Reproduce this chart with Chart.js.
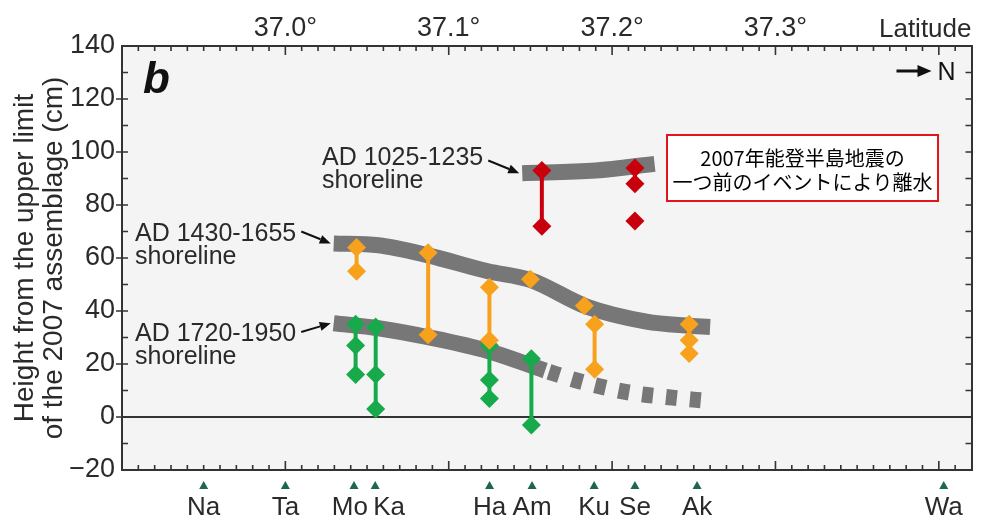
<!DOCTYPE html>
<html><head><meta charset="utf-8">
<script src="https://cdn.jsdelivr.net/npm/chart.js@4.4.0/dist/chart.umd.min.js"></script>
<style>html,body{margin:0;padding:0;background:#fff;}</style>
</head><body>
<canvas id="c" width="981" height="524"></canvas>
<script>
// ---- data (latitude in degrees N, height in cm) ----
const latTicks = [37.0, 37.1, 37.2, 37.3];
const stationNames = ['Na', 'Ta', 'Mo', 'Ka', 'Ha', 'Am', 'Ku', 'Se', 'Ak', 'Wa'];
const stationLats  = [36.950, 37.000, 37.042, 37.055, 37.125, 37.151, 37.189, 37.214, 37.252, 37.403];

const redLat    = [37.157, 37.157, 37.214, 37.214, 37.214];
const redHeight = [93, 72, 94, 88, 74];
const redGroup  = [1, 1, 2, 2, 3];

const orangeLat    = [37.0436, 37.0436, 37.0874, 37.0874, 37.1249, 37.1249, 37.150, 37.183, 37.1893, 37.1893, 37.2472, 37.2472, 37.2472];
const orangeHeight = [64, 55, 62, 31, 49, 29, 52, 42, 35, 18, 35, 29, 24];
const orangeGroup  = [1, 1, 2, 2, 3, 3, 4, 5, 6, 6, 7, 7, 7];

const greenLat    = [37.043, 37.043, 37.043, 37.0553, 37.0553, 37.0553, 37.1249, 37.1249, 37.1249, 37.1506, 37.1506];
const greenHeight = [35, 27, 16, 34, 16, 3, 27, 14, 7, 22, -3];
const greenGroup  = [1, 1, 1, 2, 2, 2, 3, 3, 3, 4, 4];

const shore1025Lat    = [37.145, 37.190, 37.226];
const shore1025Height = [92, 93, 95.5];
const shore1430Lat    = [37.0296, 37.057, 37.0874, 37.124, 37.150, 37.1846, 37.221, 37.245, 37.260];
const shore1430Height = [65.5, 64.8, 61, 55, 51.7, 41.6, 36, 34.5, 34];
const shore1720Lat    = [37.0296, 37.057, 37.0874, 37.124, 37.159];
const shore1720Height = [35.4, 33.5, 30.1, 24.9, 17.5];
const shore1720ProjLat    = [37.159, 37.180, 37.209, 37.237, 37.256];
const shore1720ProjHeight = [17.5, 13.5, 9.4, 7.3, 6.2];

// ---- helpers ----
function grouped(lat, h, g) {
  const out = [];
  for (let i = 0; i < lat.length; i++) {
    if (i > 0 && g[i] !== g[i - 1]) out.push({x: lat[i], y: null});
    out.push({x: lat[i], y: h[i]});
  }
  return out;
}
function pts(lat, h) { return lat.map((v, i) => ({x: v, y: h[i]})); }

const FONT = "'Liberation Sans', Arial, Helvetica, sans-serif";
const INK = '#2a2a2a';
const XMIN = 36.9, XMAX = 37.42;

function measureDS(label, data, color) {
  return {label, data, showLine: true, spanGaps: false, borderColor: color, borderWidth: 4,
    pointStyle: 'rectRot', pointRadius: 9.5, pointBackgroundColor: color, pointBorderWidth: 0,
    pointHoverRadius: 9.5};
}
function shoreDS(label, data, dash, dashOffset) {
  return {label, data, showLine: true, borderColor: '#777777', borderWidth: 16, pointRadius: 0,
    pointHoverRadius: 0, borderCapStyle: 'butt', cubicInterpolationMode: 'monotone',
    borderDash: dash || [], borderDashOffset: dashOffset || 0};
}

const deco = {
  id: 'deco',
  beforeDraw(chart) {
    const {ctx, chartArea: a} = chart;
    ctx.save();
    ctx.fillStyle = '#f4f4f4';
    ctx.fillRect(a.left, a.top, a.right - a.left, a.bottom - a.top);
    ctx.restore();
  },
  afterDraw(chart) {
    const {ctx, chartArea: a, scales} = chart;
    const xs = scales.x, ys = scales.y;
    ctx.save();
    ctx.strokeStyle = '#333'; ctx.lineWidth = 1.6;
    // latitude ticks (every 0.01, major every 0.1), pointing inward
    for (let i = Math.round(XMIN * 100) + 1; i < Math.round(XMAX * 100); i++) {
      const px = xs.getPixelForValue(i / 100);
      const len = (i % 10 === 0) ? 9 : 5;
      ctx.beginPath();
      ctx.moveTo(px, a.top); ctx.lineTo(px, a.top + len);
      ctx.moveTo(px, a.bottom); ctx.lineTo(px, a.bottom - len);
      ctx.stroke();
    }
    // height ticks every 10
    for (let v = -10; v < 140; v += 10) {
      const py = ys.getPixelForValue(v);
      ctx.beginPath();
      if (v % 20 === 0) { ctx.moveTo(a.left - 6, py); ctx.lineTo(a.left + 6, py); }
      else { ctx.moveTo(a.left, py); ctx.lineTo(a.left + 6, py); }
      ctx.moveTo(a.right, py); ctx.lineTo(a.right - 6, py);
      ctx.stroke();
    }
    // stations
    ctx.font = '26px ' + FONT;
    ctx.textBaseline = 'alphabetic';
    stationLats.forEach((lat, i) => {
      const px = xs.getPixelForValue(lat);
      ctx.fillStyle = '#1d6652';
      ctx.beginPath();
      ctx.moveTo(px, a.bottom + 11); ctx.lineTo(px - 4.5, a.bottom + 19); ctx.lineTo(px + 4.5, a.bottom + 19);
      ctx.closePath(); ctx.fill();
      ctx.fillStyle = INK;
      const prev = i > 0 ? xs.getPixelForValue(stationLats[i - 1]) : -1e9;
      const next = i < stationLats.length - 1 ? xs.getPixelForValue(stationLats[i + 1]) : 1e9;
      const by = a.bottom + 45;
      if (next - px < 30) { ctx.textAlign = 'right'; ctx.fillText(stationNames[i], px + 14, by); }
      else if (px - prev < 30) { ctx.textAlign = 'left'; ctx.fillText(stationNames[i], px - 2, by); }
      else { ctx.textAlign = 'center'; ctx.fillText(stationNames[i], px, by); }
    });
    // Latitude label
    ctx.fillStyle = INK; ctx.textAlign = 'right'; ctx.font = '26px ' + FONT;
    ctx.fillText('Latitude', a.right, 37);
    // panel letter
    ctx.textAlign = 'left'; ctx.font = 'italic bold 44px ' + FONT; ctx.fillStyle = '#111';
    ctx.fillText('b', a.left + 21, a.top + 47);
    // north arrow
    ctx.strokeStyle = '#111'; ctx.lineWidth = 3;
    ctx.beginPath(); ctx.moveTo(a.right - 75, a.top + 25); ctx.lineTo(a.right - 52, a.top + 25); ctx.stroke();
    ctx.fillStyle = '#111';
    ctx.beginPath(); ctx.moveTo(a.right - 40, a.top + 25); ctx.lineTo(a.right - 54, a.top + 19); ctx.lineTo(a.right - 54, a.top + 31); ctx.closePath(); ctx.fill();
    ctx.font = '25px ' + FONT; ctx.fillText('N', a.right - 34, a.top + 34);
    // shoreline labels with arrows
    const labels = [
      {l1: 'AD 1025-1235', left: 322, cy: 155.5, lat: shore1025Lat[0], h: shore1025Height[0], dy: 5},
      {l1: 'AD 1430-1655', left: 135, cy: 231.5, lat: shore1430Lat[0], h: shore1430Height[0], dy: 0},
      {l1: 'AD 1720-1950', left: 135, cy: 332, lat: shore1720Lat[0], h: shore1720Height[0], dy: 0}
    ];
    ctx.font = '25px ' + FONT; ctx.fillStyle = INK; ctx.textAlign = 'left';
    labels.forEach(L => {
      ctx.fillStyle = INK;
      ctx.fillText(L.l1, L.left, L.cy + 9);
      ctx.fillText('shoreline', L.left, L.cy + 32);
      const w = ctx.measureText(L.l1).width;
      const x0 = L.left + w + 5, y0 = L.cy + L.dy;
      const x1 = xs.getPixelForValue(L.lat) - 3, y1 = ys.getPixelForValue(L.h);
      const ang = Math.atan2(y1 - y0, x1 - x0);
      const hx = x1 - 11 * Math.cos(ang), hy = y1 - 11 * Math.sin(ang);
      ctx.strokeStyle = '#111'; ctx.lineWidth = 2;
      ctx.beginPath(); ctx.moveTo(x0, y0); ctx.lineTo(hx, hy); ctx.stroke();
      ctx.fillStyle = '#111';
      ctx.beginPath();
      ctx.moveTo(x1, y1);
      ctx.lineTo(hx + 4.5 * Math.sin(ang), hy - 4.5 * Math.cos(ang));
      ctx.lineTo(hx - 4.5 * Math.sin(ang), hy + 4.5 * Math.cos(ang));
      ctx.closePath(); ctx.fill();
    });
    // note box
    ctx.fillStyle = '#ffffff';
    ctx.fillRect(667, 135, 271, 66);
    ctx.strokeStyle = '#e3141b'; ctx.lineWidth = 2;
    ctx.strokeRect(667, 135, 271, 66);
    ctx.fillStyle = '#000'; ctx.textAlign = 'center'; ctx.textBaseline = 'middle';
    ctx.font = "20px 'Noto Sans CJK JP', sans-serif";
    ctx.fillText('2007年能登半島地震の', 802.5, 158);
    ctx.fillText('一つ前のイベントにより離水', 802.5, 182);
    ctx.restore();
  }
};

new Chart(document.getElementById('c'), {
  type: 'scatter',
  data: {
    datasets: [
      measureDS('AD 1025-1235 samples', grouped(redLat, redHeight, redGroup), '#c8000e'),
      measureDS('AD 1430-1655 samples', grouped(orangeLat, orangeHeight, orangeGroup), '#f8a11d'),
      measureDS('AD 1720-1950 samples', grouped(greenLat, greenHeight, greenGroup), '#17aa4b'),
      shoreDS('AD 1025-1235 shoreline', pts(shore1025Lat, shore1025Height)),
      shoreDS('AD 1430-1655 shoreline', pts(shore1430Lat, shore1430Height)),
      shoreDS('AD 1720-1950 shoreline', pts(shore1720Lat, shore1720Height)),
      shoreDS('AD 1720-1950 shoreline (projected)', pts(shore1720ProjLat, shore1720ProjHeight), [11, 13], 20)
    ]
  },
  options: {
    responsive: false, animation: false, devicePixelRatio: 1,
    layout: {padding: 0},
    plugins: {legend: {display: false}, tooltip: {enabled: false}},
    scales: {
      x: {
        type: 'linear', position: 'bottom', min: XMIN, max: XMAX,
        ticks: {display: false},
        grid: {display: true, drawOnChartArea: false, drawTicks: false},
        border: {display: true, color: '#333', width: 2},
        afterFit: s => { s.height = 54; }
      },
      xTop: {
        type: 'linear', position: 'top', min: XMIN, max: XMAX,
        afterBuildTicks: s => { s.ticks = latTicks.map(v => ({value: v})); },
        ticks: {callback: v => v.toFixed(1) + '°', font: {family: FONT, size: 27}, color: INK,
          padding: 1, maxRotation: 0, autoSkip: false},
        grid: {display: true, drawOnChartArea: false, drawTicks: false},
        border: {display: true, color: '#333', width: 2},
        afterFit: s => { s.height = 46; }
      },
      y: {
        min: -20, max: 140,
        ticks: {stepSize: 20, font: {family: FONT, size: 27}, color: INK, padding: 7,
          callback: v => (v < 0 ? '\u2212' + Math.abs(v) : String(v))},
        grid: {drawTicks: false, color: c => (c.tick && c.tick.value === 0) ? '#333' : 'rgba(0,0,0,0)', lineWidth: 2},
        border: {display: true, color: '#333', width: 2},
        title: {display: true, text: ['Height from the upper limit', 'of the 2007 assemblage (cm)'],
          font: {family: FONT, size: 28, lineHeight: 1.04}, color: INK, padding: {top: 11, bottom: 0}},
        afterFit: s => { s.width = 122; }
      },
      y2: {
        position: 'right', min: -20, max: 140,
        ticks: {display: false},
        grid: {display: true, drawOnChartArea: false, drawTicks: false},
        border: {display: true, color: '#333', width: 2},
        afterFit: s => { s.width = 6; }
      }
    }
  },
  plugins: [deco]
});
</script>
</body></html>
